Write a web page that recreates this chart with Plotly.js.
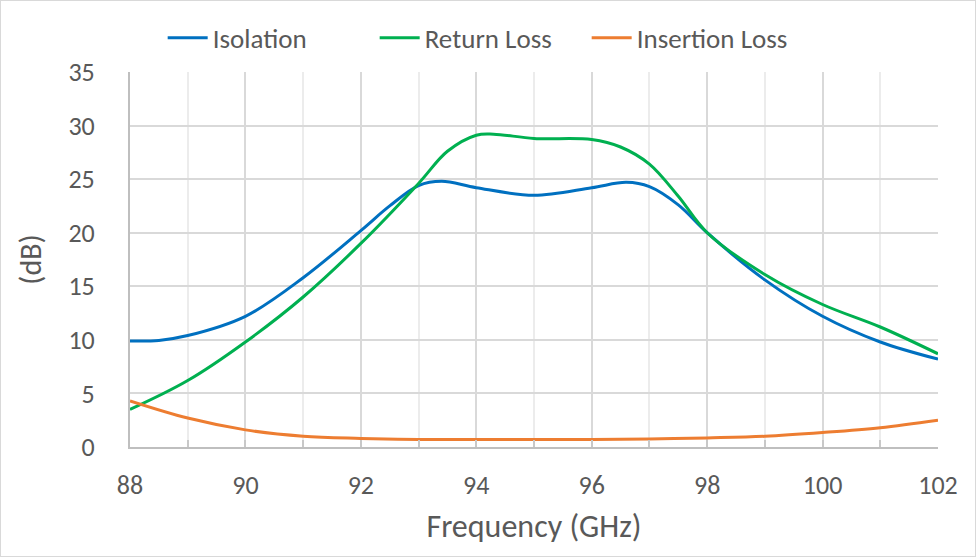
<!DOCTYPE html>
<html>
<head>
<meta charset="utf-8">
<script src="https://cdn.plot.ly/plotly-3.0.1.min.js"></script>
<style>
  html, body { margin: 0; padding: 0; background: #fff; }
  #chart { width: 974px; height: 555px; border: 1px solid #d9d9d9; }
</style>
</head>
<body>
<div id="chart"></div>
<script>
// Frequencies (GHz) and values (dB)
const isoFreq = [88, 88.5, 89, 90, 91, 92, 92.5, 93, 93.4, 94, 95, 96, 96.6, 97, 97.5, 98, 99, 100, 101, 102];
const isolation = [9.9, 9.95, 10.4, 12.2, 15.8, 20.2, 22.5, 24.4, 24.8, 24.2, 23.5, 24.2, 24.7, 24.3, 22.6, 20.0, 15.6, 12.2, 9.8, 8.2];

const rlFreq = [88, 89, 90, 91, 92, 93, 93.5, 94, 94.3, 95, 96, 96.5, 97, 97.5, 98, 99, 100, 101, 102];
const returnLoss = [3.5, 6.2, 9.8, 14.0, 19.0, 24.6, 27.6, 29.1, 29.2, 28.8, 28.7, 28.0, 26.4, 23.4, 20.0, 16.1, 13.3, 11.2, 8.7];

const ilFreq = [88, 89, 90, 91, 92, 93, 94, 95, 96, 97, 98, 99, 100, 101, 102];
const insertionLoss = [4.3, 2.7, 1.6, 1.0, 0.8, 0.7, 0.7, 0.7, 0.7, 0.75, 0.85, 1.0, 1.35, 1.8, 2.5];

const xTicks = [88, 90, 92, 94, 96, 98, 100, 102];
const yTicks = [0, 5, 10, 15, 20, 25, 30, 35];

const FONT = "Carlito, Lato, 'Open Sans', sans-serif";
const TXT = "#595959";

const traces = [
  { x: isoFreq, y: isolation, name: "Isolation", mode: "lines",
    line: { color: "#0070C0", width: 3, shape: "spline", smoothing: 1 } },
  { x: rlFreq, y: returnLoss, name: "Return Loss", mode: "lines",
    line: { color: "#00B050", width: 3, shape: "spline", smoothing: 1 } },
  { x: ilFreq, y: insertionLoss, name: "Insertion Loss", mode: "lines",
    line: { color: "#ED7D31", width: 3, shape: "spline", smoothing: 1 } }
];

const layout = {
  width: 974, height: 555,
  margin: { l: 129, r: 37, t: 71, b: 109 },
  paper_bgcolor: "#ffffff",
  plot_bgcolor: "#ffffff",
  font: { family: FONT, color: TXT, size: 26 },
  showlegend: true,
  legend: {
    orientation: "h", x: 0.434, xanchor: "center", y: 1.09, yanchor: "middle",
    yref: "paper", font: { family: FONT, size: 27, color: TXT },
    itemwidth: 40, entrywidth: 157, traceorder: "normal", bgcolor: "rgba(0,0,0,0)"
  },
  xaxis: {
    range: [88, 102], tickvals: xTicks, ticktext: xTicks.map(String),
    showgrid: true, gridcolor: "#d9d9d9", gridwidth: 2,
    minor: { dtick: 1, tick0: 88, showgrid: true, gridcolor: "#ececec", gridwidth: 2,
             ticks: "inside", ticklen: 7, tickcolor: "#c8c8c8", tickwidth: 2 },
    showline: true, linecolor: "#bfbfbf", linewidth: 2,
    ticks: "inside", ticklen: 7, tickcolor: "#c8c8c8", tickwidth: 2,
    zeroline: false, fixedrange: true, ticklabelstandoff: 14,
    tickfont: { family: FONT, size: 26, color: TXT },
    title: { text: "Frequency (GHz)", font: { family: FONT, size: 32, color: TXT }, standoff: 14 }
  },
  yaxis: {
    range: [0, 35], tickvals: yTicks, ticktext: yTicks.map(String),
    showgrid: true, gridcolor: "#d9d9d9", gridwidth: 2,
    showline: true, linecolor: "#bfbfbf", linewidth: 2,
    ticks: "", zeroline: false, fixedrange: true, ticklabelstandoff: 28,
    tickfont: { family: FONT, size: 26, color: TXT },
    title: { text: "(dB)", font: { family: FONT, size: 30, color: TXT }, standoff: 18 }
  }
};

Plotly.newPlot("chart", traces, layout, { displayModeBar: false, staticPlot: true });
</script>
</body>
</html>
